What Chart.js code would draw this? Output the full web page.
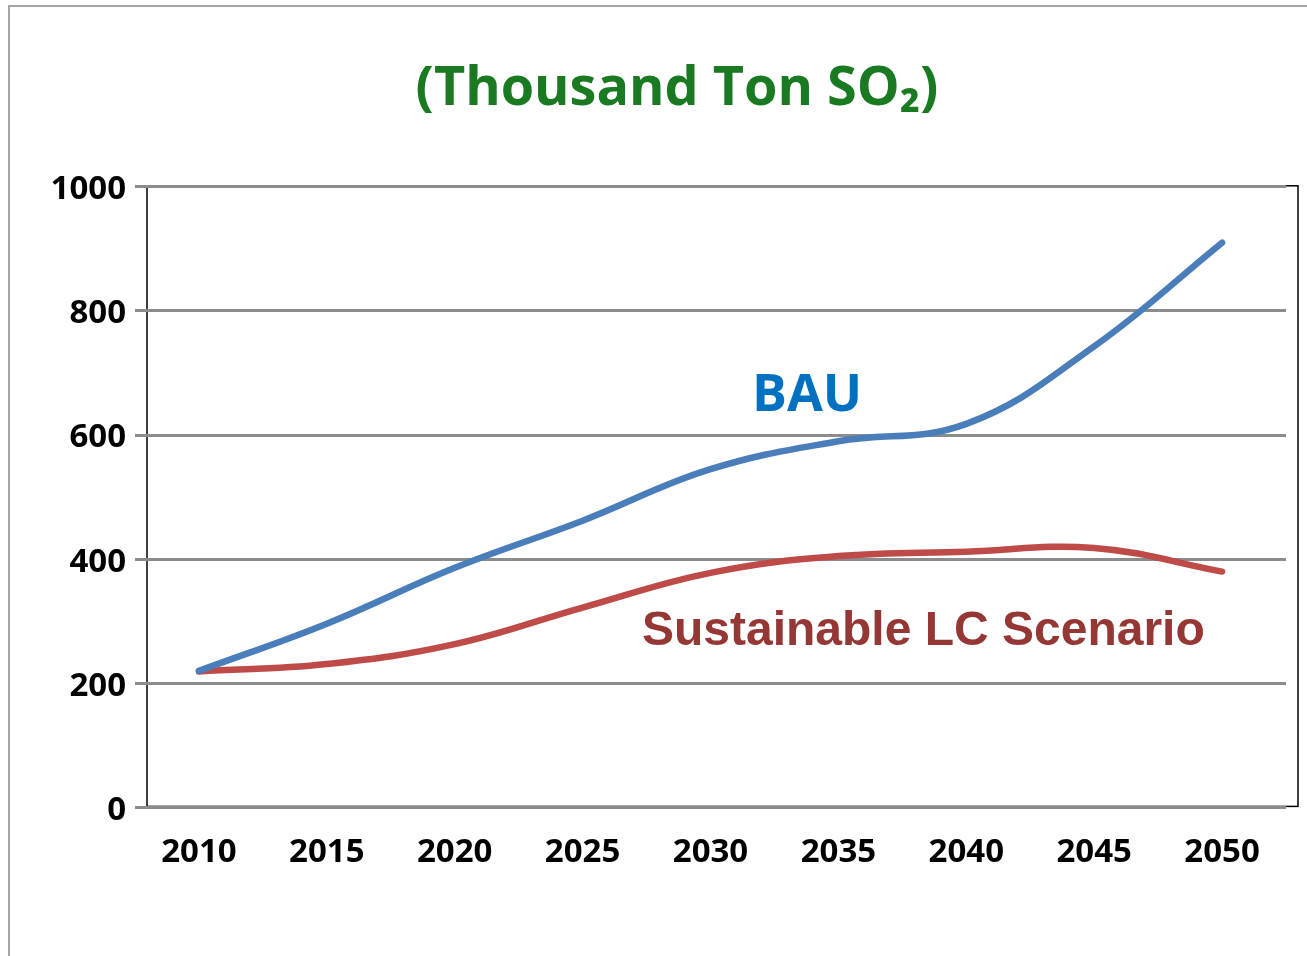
<!DOCTYPE html>
<html>
<head>
<meta charset="utf-8">
<script src="https://cdn.jsdelivr.net/npm/chart.js@4.4.1/dist/chart.umd.min.js"></script>
<style>
  html, body { margin: 0; padding: 0; background: #ffffff; }
  #wrap { position: relative; width: 1307px; height: 956px; }
  canvas { display: block; }
</style>
</head>
<body>
<div id="wrap"><canvas id="c" width="1307" height="956"></canvas></div>
<script>
// ---- data ----
const years = ['2010', '2015', '2020', '2025', '2030', '2035', '2040', '2045', '2050'];
const bauValues = [220, 296, 386, 462, 545, 590, 618, 743, 910];
const sustainableValues = [219, 231, 263, 322, 378, 405, 412, 418, 380];
const yTicks = [0, 200, 400, 600, 800, 1000];
const titleText = '(Thousand Ton SO\u2082)';
const seriesNames = ['BAU', 'Sustainable LC Scenario'];

// ---- plugins ----
const framePlugin = {
  id: 'frame',
  beforeDraw(chart) {
    const ctx = chart.ctx;
    const a = chart.chartArea;
    ctx.save();
    // outer slide frame
    ctx.strokeStyle = '#a6a6a6';
    ctx.lineWidth = 2;
    ctx.beginPath();
    ctx.moveTo(9, chart.height);
    ctx.lineTo(9, 6);
    ctx.lineTo(chart.width, 6);
    ctx.stroke();
    // plot area border (slightly offset to the right, as in the original)
    ctx.strokeStyle = '#000000';
    ctx.lineWidth = 1.5;
    ctx.strokeRect(a.left + 12, a.top - 1, a.right - a.left, a.bottom - a.top);
    ctx.restore();
  }
};

const labelPlugin = {
  id: 'seriesLabels',
  afterDatasetsDraw(chart, args, opts) {
    const ctx = chart.ctx;
    const xs = chart.scales.x, ys = chart.scales.y;
    ctx.save();
    opts.items.forEach(it => {
      ctx.font = it.font;
      ctx.fillStyle = it.color;
      ctx.textAlign = it.align;
      ctx.textBaseline = 'alphabetic';
      ctx.fillText(it.text, xs.getPixelForValue(it.xIndex), ys.getPixelForValue(it.yValue));
    });
    ctx.restore();
  }
};

const ctx = document.getElementById('c').getContext('2d');
new Chart(ctx, {
  type: 'line',
  data: {
    labels: years,
    datasets: [
      {
        label: seriesNames[0],
        data: bauValues,
        borderColor: '#4a7ebb',
        borderWidth: 6.5,
        tension: 0.4,
        pointRadius: 0,
        borderCapStyle: 'round',
        borderJoinStyle: 'round',
        fill: false
      },
      {
        label: seriesNames[1],
        data: sustainableValues,
        borderColor: '#be4b48',
        borderWidth: 6.5,
        tension: 0.4,
        pointRadius: 0,
        borderCapStyle: 'round',
        borderJoinStyle: 'round',
        fill: false
      }
    ]
  },
  options: {
    responsive: false,
    animation: false,
    devicePixelRatio: 1,
    layout: { padding: { left: 68, right: 21, top: 0, bottom: 59 } },
    plugins: {
      legend: { display: false },
      tooltip: { enabled: false },
      title: {
        display: true,
        text: titleText,
        color: '#1a7a22',
        font: { family: '"Open Sans", sans-serif', size: 54, weight: 'bold', lineHeight: 1.2 },
        padding: { top: 57, bottom: 65 }
      },
      seriesLabels: {
        items: [
          { text: seriesNames[0], xIndex: 4.755, yValue: 639, align: 'center',
            font: 'bold 52px "Open Sans", sans-serif', color: '#0070c0' },
          { text: seriesNames[1], xIndex: 3.464, yValue: 261, align: 'left',
            font: 'bold 48px "Liberation Sans", Arial, sans-serif', color: '#953735' }
        ]
      }
    },
    scales: {
      x: {
        offset: true,
        grid: { display: false, drawTicks: false },
        border: { display: false },
        ticks: {
          color: '#000000',
          padding: 25,
          maxRotation: 0,
          autoSkip: false,
          font: { family: '"Open Sans", sans-serif', size: 33, weight: 'bold', lineHeight: 1.2 }
        }
      },
      y: {
        min: 0,
        max: 1000,
        afterBuildTicks(scale) { scale.ticks = yTicks.map(v => ({ value: v })); },
        afterFit(scale) {
          scale.width = 67;
          // let the widest label extend past the narrow axis box without clipping
          scale._computeLabelArea = () => undefined;
        },
        grid: {
          color: '#8c8c8c',
          lineWidth: 3,
          drawTicks: false
        },
        border: { display: false },
        ticks: {
          color: '#000000',
          padding: 9,
          labelOffset: 3,
          callback: (v) => String(v),
          font: { family: '"Open Sans", sans-serif', size: 33, weight: 'bold', lineHeight: 1.2 }
        }
      }
    }
  },
  plugins: [framePlugin, labelPlugin]
});
</script>
</body>
</html>
